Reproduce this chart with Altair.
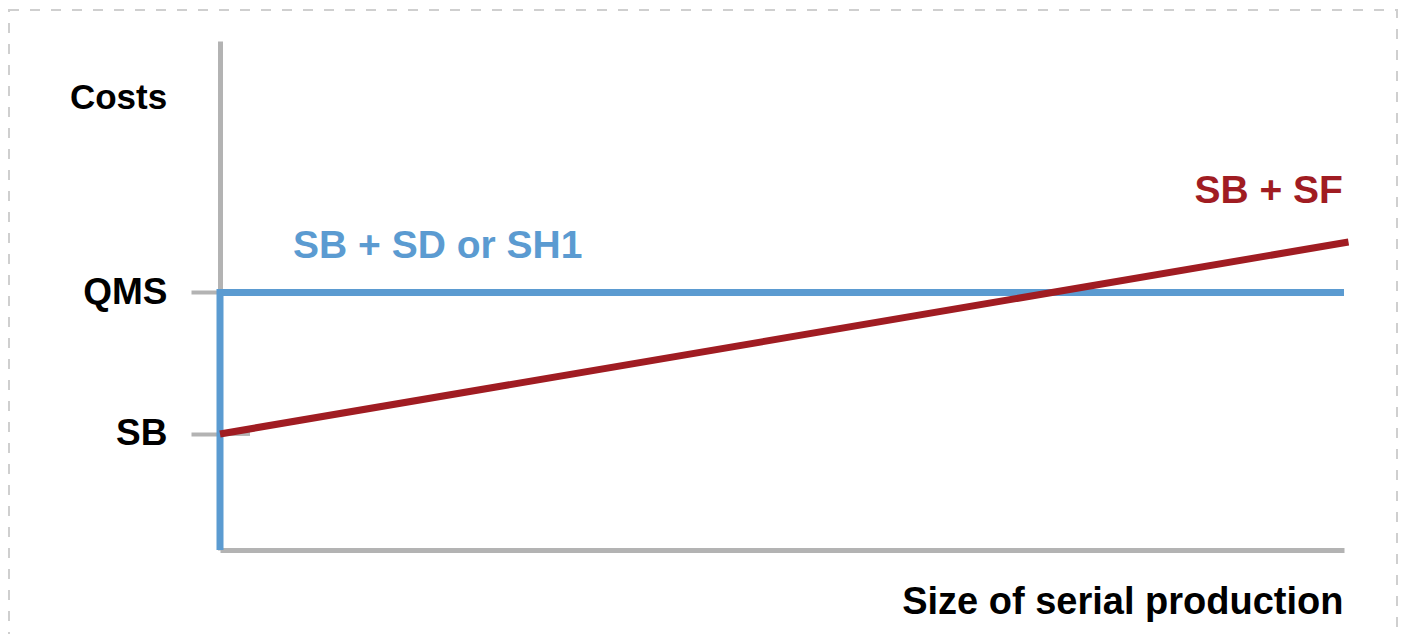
import altair as alt
import pandas as pd

# ---- data (chart units: x 0..100 along production size, y 0..100 along costs) ----
tick_names = ["QMS", "SB"]
tick_values = [50.6, 22.8]

blue_x = [0, 0, 100]
blue_y = [0, 50.6, 50.6]

red_x = [0, 100.4]
red_y = [22.8, 60.5]

ann_text = ["SB + SD or SH1", "SB + SF"]
ann_x = [6.5, 99.9]
ann_y = [59.7, 70.5]
ann_color = ["#5b9bd1", "#a01c22"]
ann_align = ["left", "right"]

FONT = "Liberation Sans"
GRAY = "#b3b3b3"
BLUE = "#5b9bd1"
RED = "#a01c22"

W, H = 1124, 509

xs = alt.Scale(domain=[0, 100], nice=False, zero=False)
ys = alt.Scale(domain=[0, 100], nice=False, zero=False)

label_expr = " : ".join(
    f"datum.value == {v} ? '{n}'" for v, n in zip(tick_values, tick_names)
) + " : ''"

y_axis = alt.Axis(
    values=tick_values, labelExpr=label_expr, grid=False,
    domainColor=GRAY, domainWidth=5,
    tickColor=GRAY, tickWidth=4, tickSize=29,
    labelPadding=24, labelFont=FONT, labelFontSize=37, labelFontWeight="bold",
    labelColor="black", labelBaseline="middle",
    title="Costs", titleAngle=0, titleFont=FONT, titleFontSize=35,
    titleFontWeight="bold", titleColor="black", titleAlign="center",
    titleBaseline="middle", titleX=-102, titleY=56,
)
x_axis = alt.Axis(
    labels=False, ticks=False, grid=False,
    domainColor=GRAY, domainWidth=5,
    title="Size of serial production", titleFont=FONT, titleFontSize=38,
    titleFontWeight="bold", titleColor="black", titleAlign="right",
    titleBaseline="middle", titleX=1123, titleY=52,
)

border = alt.Chart(pd.DataFrame({"k": [0]})).mark_rect(
    fill=None, stroke="#cfcfcf", strokeWidth=2, strokeDash=[10, 11]
).encode(
    x=alt.value(-211), x2=alt.value(1177), y=alt.value(-31), y2=alt.value(640)
)

tick_df = pd.DataFrame({"name": tick_names, "y": tick_values})
tick_ext = alt.Chart(tick_df).mark_rule(color=GRAY, strokeWidth=4).encode(
    y=alt.Y("y:Q", scale=ys, axis=y_axis),
    x=alt.value(0), x2=alt.value(30),
)

blue_df = pd.DataFrame({"x": blue_x, "y": blue_y, "o": list(range(len(blue_x)))})
blue = alt.Chart(blue_df).mark_line(
    color=BLUE, strokeWidth=7, strokeJoin="miter", strokeCap="butt"
).encode(
    x=alt.X("x:Q", scale=xs, axis=x_axis),
    y=alt.Y("y:Q", scale=ys, axis=y_axis),
    order="o:O",
)

red_df = pd.DataFrame({"x": red_x, "y": red_y})
red = alt.Chart(red_df).mark_line(color=RED, strokeWidth=7, strokeCap="butt").encode(
    x=alt.X("x:Q", scale=xs, axis=x_axis),
    y=alt.Y("y:Q", scale=ys, axis=y_axis),
)

ann_df = pd.DataFrame({"t": ann_text, "x": ann_x, "y": ann_y, "c": ann_color, "a": ann_align})
ann_left = alt.Chart(ann_df[ann_df.a == "left"]).mark_text(
    font=FONT, fontSize=39, fontWeight="bold", align="left", baseline="middle"
).encode(
    x=alt.X("x:Q", scale=xs, axis=x_axis),
    y=alt.Y("y:Q", scale=ys, axis=y_axis),
    text="t:N", color=alt.Color("c:N", scale=None),
)
ann_right = alt.Chart(ann_df[ann_df.a == "right"]).mark_text(
    font=FONT, fontSize=39, fontWeight="bold", align="right", baseline="middle"
).encode(
    x=alt.X("x:Q", scale=xs, axis=x_axis),
    y=alt.Y("y:Q", scale=ys, axis=y_axis),
    text="t:N", color=alt.Color("c:N", scale=None),
)

chart = alt.layer(border, tick_ext, blue, red, ann_left, ann_right).properties(
    width=W, height=H,
    autosize=alt.AutoSizeParams(type="none"),
    padding={"left": 212, "top": 33, "right": 54, "bottom": 84},
    background="white",
).configure_view(stroke="transparent", strokeWidth=0)

chart.save("out.html", embed_options={"renderer": "svg", "actions": False})
